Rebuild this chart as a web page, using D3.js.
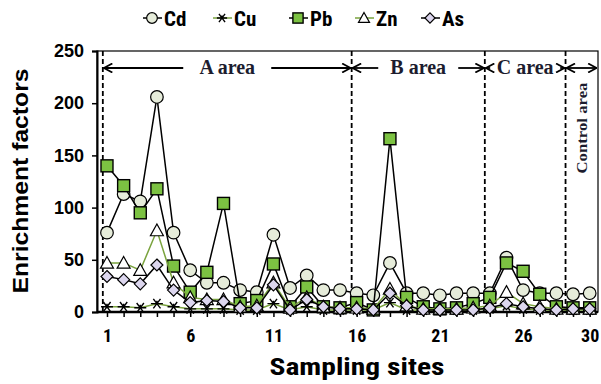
<!DOCTYPE html>
<html><head><meta charset="utf-8">
<script src="https://cdn.jsdelivr.net/npm/d3@7"></script>
<style>
body{margin:0;background:#fff;}
svg{display:block;}
</style></head>
<body><svg id="c" width="601" height="384"></svg>
<script>
const sites = [1,2,3,4,5,6,7,8,9,10,11,12,13,14,15,16,17,18,19,20,21,22,23,24,25,26,27,28,29,30];
const cd = [76,113,106,206,76,40,28,28,21,19,74,23,35,21,21,18,16,47,18,18,16,18,18,18,52,21,18,18,17,18];
const cu = [5,5,4,8,5,3,3,3,2,2,8,2,5,2,2,2,2,9,2,2,2,2,2,3,6,3,2,2,2,2];
const pb = [140,121,95,118,44,19,38,104,8,11,46,5,24,5,4,9,2,166,14,5,3,4,8,14,47,39,17,5,4,4];
const zn = [47,47,40,78,28,14,12,12,5,6,28,4,14,5,4,4,3,22,6,3,3,3,4,6,19,8,5,3,3,3];
const as = [34,31,27,45,21,9,11,10,4,4,26,2,12,5,3,3,2,18,6,2,2,2,2,4,8,5,3,2,3,3];
const yTicks = [0,50,100,150,200,250];
const xTickLabels = [1,6,11,16,21,26,30];
const areaBounds = [0.75,15.7,23.7,28.55];
const areaNames = ["A area","B area","C area","Control area"];
const seriesNames = ["Cd","Cu","Pb","Zn","As"];

const svg = d3.select("#c");
const L=97, R=598, T=51, B=312;
const x = d3.scaleLinear().domain([0.4,30.5]).range([L,R]);
const y = d3.scaleLinear().domain([0,250]).range([B,T]);
const green="#7aa33e";
const sans = "'Liberation Sans Narrow','Roboto Condensed','Liberation Sans',Arial,sans-serif";
const arial = "'Liberation Sans',Arial,sans-serif";

// frame
svg.append("rect").attr("x",L).attr("y",T).attr("width",R-L).attr("height",B-T)
  .attr("fill","none").attr("stroke","#000").attr("stroke-width",1.2);

// y axis
const ya = svg.append("g").attr("transform",`translate(${L},0)`)
  .call(d3.axisLeft(y).tickValues(yTicks).tickSize(5).tickPadding(8));
ya.select(".domain").attr("stroke-width",2);
ya.selectAll("line").attr("stroke-width",1.5);
ya.selectAll("text").attr("font-family",arial).attr("font-size",18).attr("font-weight","bold").attr("fill","#000");

// x axis
const xa = svg.append("g").attr("transform",`translate(0,${B})`)
  .call(d3.axisBottom(x).tickValues(sites).tickSize(5).tickFormat(d=>xTickLabels.includes(d)?d:"").tickPadding(12));
xa.select(".domain").attr("stroke-width",2.5).attr("d",`M${L},0H${R}`);
xa.selectAll("line").attr("stroke-width",1.5);
xa.selectAll("text").attr("font-family",sans).attr("font-size",18).attr("font-weight","bold").attr("fill","#000");

// axis titles
svg.append("text").attr("x",357).attr("y",375).attr("text-anchor","middle")
  .attr("font-family",sans).attr("font-size",23).attr("font-weight","bold")
  .attr("textLength",175).attr("lengthAdjust","spacingAndGlyphs").text("Sampling sites");
svg.append("text").attr("transform","translate(28,181) rotate(-90)").attr("text-anchor","middle")
  .attr("font-family",arial).attr("font-size",22).attr("font-weight","bold")
  .attr("textLength",225).attr("lengthAdjust","spacingAndGlyphs").text("Enrichment factors");

// dashed area lines
svg.selectAll("line.area").data(areaBounds).join("line")
  .attr("x1",d=>x(d)).attr("x2",d=>x(d)).attr("y1",T).attr("y2",B)
  .attr("stroke","#000").attr("stroke-width",1.8).attr("stroke-dasharray","5,3");

// area arrows
const defs = svg.append("defs");
defs.append("marker").attr("id","ah").attr("viewBox","0 0 10 10").attr("refX",9.5).attr("refY",5)
  .attr("markerWidth",10).attr("markerHeight",10).attr("markerUnits","userSpaceOnUse").attr("orient","auto-start-reverse")
  .append("path").attr("d","M1,0.5L9.5,5L1,9.5").attr("fill","none").attr("stroke","#000").attr("stroke-width",1.8);
const ay = 68;
const serif = "'Liberation Serif','Times New Roman',serif";
const edges = areaBounds.concat([30.48]);
const textW = [88,80,70];
for(let i=0;i<3;i++){
  const x0=x(edges[i])+1, x1=x(edges[i+1])-1, cx=(x0+x1)/2, w=textW[i];
  svg.append("line").attr("x1",cx-w/2).attr("x2",x0).attr("y1",ay).attr("y2",ay)
    .attr("stroke","#000").attr("stroke-width",1.8).attr("marker-end","url(#ah)");
  svg.append("line").attr("x1",cx+w/2).attr("x2",x1).attr("y1",ay).attr("y2",ay)
    .attr("stroke","#000").attr("stroke-width",1.8).attr("marker-end","url(#ah)");
  svg.append("text").attr("x",cx).attr("y",ay+6).attr("text-anchor","middle")
    .attr("font-family",serif).attr("font-size",20).attr("font-weight","bold").attr("fill","#1c1c2e").text(areaNames[i]);
}
{
  const x0=x(edges[3])+1, x1=x(edges[4])-1;
  svg.append("line").attr("x1",x0).attr("x2",x1).attr("y1",ay).attr("y2",ay)
    .attr("stroke","#000").attr("stroke-width",1.8).attr("marker-end","url(#ah)").attr("marker-start","url(#ah)");
  svg.append("text").attr("transform",`translate(${(x0+x1)/2+5},128) rotate(-90)`).attr("text-anchor","middle")
    .attr("font-family",serif).attr("font-size",15).attr("font-weight","bold").attr("fill","#1c1c2e")
    .attr("textLength",91).attr("lengthAdjust","spacingAndGlyphs").text(areaNames[3]);
}

// series
const series = [
  {name:"Cd", vals:cd, line:"#000", shape:"circle", fill:"#e6ecda"},
  {name:"Cu", vals:cu, line:green, shape:"star", fill:"none"},
  {name:"Pb", vals:pb, line:"#000", shape:"square", fill:"#7cc242"},
  {name:"Zn", vals:zn, line:green, shape:"triangle", fill:"#fff"},
  {name:"As", vals:as, line:"#000", shape:"diamond", fill:"#dcd6ee"}
];
function drawMarker(g, s, cx, cy, scale=1){
  if(s.shape==="circle"){
    g.append("circle").attr("cx",cx).attr("cy",cy).attr("r",6.3*scale).attr("fill",s.fill).attr("stroke","#000").attr("stroke-width",1.2);
  } else if(s.shape==="square"){
    const h=6*scale;
    g.append("rect").attr("x",cx-h).attr("y",cy-h).attr("width",2*h).attr("height",2*h).attr("fill",s.fill).attr("stroke","#000").attr("stroke-width",1.4);
  } else if(s.shape==="triangle"){
    const h=6.5*scale;
    g.append("path").attr("d",`M${cx},${cy-h}L${cx+h},${cy+h*0.8}L${cx-h},${cy+h*0.8}Z`).attr("fill",s.fill).attr("stroke","#000").attr("stroke-width",1.2);
  } else if(s.shape==="diamond"){
    const h=6*scale;
    g.append("path").attr("d",`M${cx},${cy-h}L${cx+h},${cy}L${cx},${cy+h}L${cx-h},${cy}Z`).attr("fill",s.fill).attr("stroke","#000").attr("stroke-width",1.2);
  } else if(s.shape==="star"){
    const h=6*scale;
    g.append("path").attr("d",`M${cx-h},${cy}H${cx+h}M${cx-h*0.6},${cy-h*0.8}L${cx+h*0.6},${cy+h*0.8}M${cx+h*0.6},${cy-h*0.8}L${cx-h*0.6},${cy+h*0.8}M${cx},${cy-h*0.5}V${cy}`)
      .attr("stroke","#000").attr("stroke-width",1.4).attr("fill","none");
  }
}
const lineGen = d3.line().x((d,i)=>x(sites[i])).y(d=>y(d));
series.forEach(s=>{
  const g = svg.append("g");
  g.append("path").attr("d",lineGen(s.vals)).attr("fill","none").attr("stroke",s.line).attr("stroke-width",1.5);
  s.vals.forEach((v,i)=>drawMarker(g,s,x(sites[i]),y(v)));
});

// legend
const legX = [143,213,289,355,421];
series.forEach((s,i)=>{
  const g = svg.append("g");
  const cx = legX[i]+9, cy=18;
  g.append("line").attr("x1",legX[i]).attr("x2",legX[i]+19).attr("y1",cy).attr("y2",cy).attr("stroke",s.line).attr("stroke-width",1.5);
  drawMarker(g,s,cx,cy,0.85);
  g.append("text").attr("x",legX[i]+21).attr("y",cy+8).attr("font-family",sans).attr("font-size",21).attr("font-weight","bold").text(s.name);
});
</script></body></html>
